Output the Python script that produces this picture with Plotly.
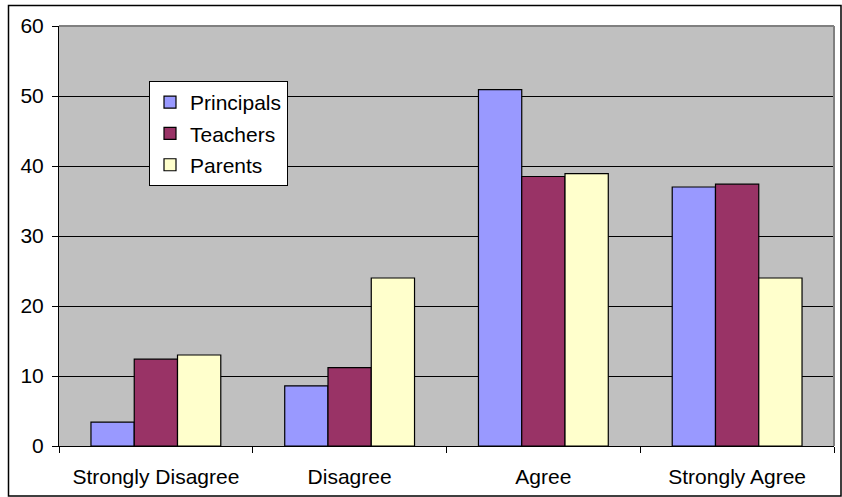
import plotly.graph_objects as go

categories = ["Strongly Disagree", "Disagree", "Agree", "Strongly Agree"]
principals = [3.4, 8.6, 50.9, 37.0]
teachers = [12.4, 11.2, 38.5, 37.4]
parents = [13.0, 24.0, 38.9, 24.0]
y_ticks = [0, 10, 20, 30, 40, 50, 60]

W, H = 842, 497
ML, MR, MT, MB = 59, 8, 26, 51
PW, PH = W - ML - MR, H - MT - MB

def px_x(p):
    return (p - ML) / PW

def px_y(p):
    return (H - MB - p) / PH

fig = go.Figure()
series = [("Principals", principals, "#9999FF"),
          ("Teachers", teachers, "#993366"),
          ("Parents", parents, "#FFFFCC")]
for name, vals, col in series:
    fig.add_trace(go.Bar(
        x=categories, y=vals, name=name, legendgroup=name,
        marker=dict(color=col, line=dict(color="#000000", width=1.2)),
    ))

fig.update_layout(
    width=W, height=H,
    margin=dict(l=ML, r=MR, t=MT, b=MB, pad=0),
    paper_bgcolor="#FFFFFF",
    plot_bgcolor="#C0C0C0",
    barmode="group",
    bargap=0.33,
    bargroupgap=0,
    font=dict(family="Liberation Sans, Arial, sans-serif", size=21, color="#000000"),
    showlegend=True,
    legend=dict(
        x=px_x(149), y=px_y(81), xanchor="left", yanchor="top",
        bgcolor="#FFFFFF", bordercolor="#000000", borderwidth=1,
        font=dict(size=21), traceorder="grouped", tracegroupgap=1,
        itemwidth=30,
    ),
    xaxis=dict(
        type="category", showgrid=False, showline=True, linecolor="#000000",
        linewidth=1, ticks="outside", tickson="boundaries", ticklen=6,
        tickcolor="#000000", ticklabelstandoff=12, fixedrange=True,
    ),
    yaxis=dict(
        range=[0, 60], tickvals=y_ticks, showgrid=True, gridcolor="#000000",
        gridwidth=1, showline=True, linecolor="#000000", linewidth=1,
        ticks="outside", ticklen=6, tickcolor="#000000", zeroline=False,
        ticklabelstandoff=4, fixedrange=True,
    ),
    shapes=[
        dict(type="line", xref="paper", yref="paper", x0=0, x1=1, y0=1, y1=1,
             line=dict(color="#808080", width=2)),
        dict(type="line", xref="paper", yref="paper", x0=1, x1=1, y0=0, y1=1,
             line=dict(color="#808080", width=2)),
        dict(type="rect", xref="paper", yref="paper",
             x0=px_x(8.5), x1=px_x(841), y0=px_y(5.5), y1=px_y(496),
             line=dict(color="#000000", width=1.5), layer="above"),
    ],
)

fig.write_html("out.html")
